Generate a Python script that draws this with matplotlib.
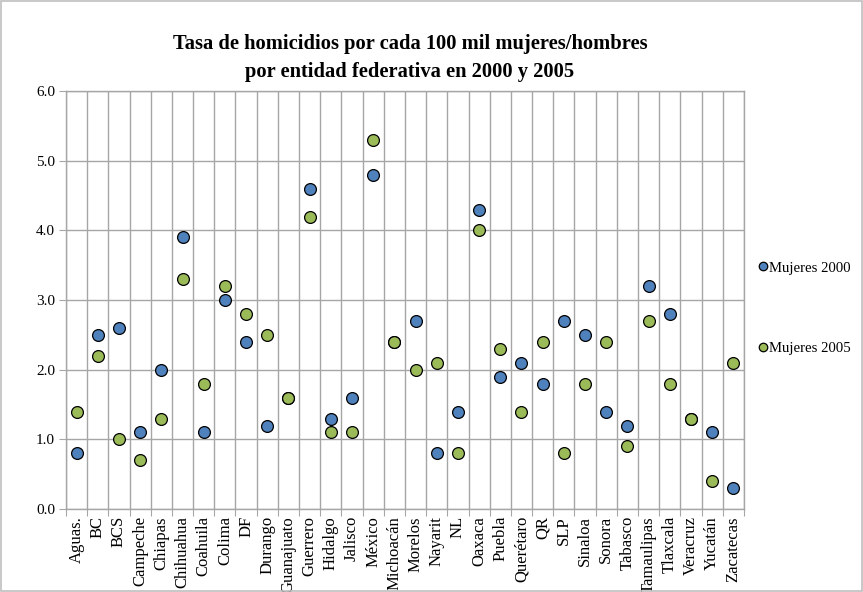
import numpy as np
import matplotlib
matplotlib.use("Agg")
import matplotlib.pyplot as plt
from matplotlib.patches import Rectangle

plt.rcParams['font.family'] = ['Liberation Serif', 'DejaVu Serif']

# datos
estados = ['Aguas.', 'BC', 'BCS', 'Campeche', 'Chiapas', 'Chihuahua', 'Coahuila',
           'Colima', 'DF', 'Durango', 'Guanajuato', 'Guerrero', 'Hidalgo', 'Jalisco',
           'México', 'Michoacán', 'Morelos', 'Nayarit', 'NL', 'Oaxaca', 'Puebla',
           'Querétaro', 'QR', 'SLP', 'Sinaloa', 'Sonora', 'Tabasco', 'Tamaulipas',
           'Tlaxcala', 'Veracruz', 'Yucatán', 'Zacatecas']
mujeres_2000 = [0.8, 2.5, 2.6, 1.1, 2.0, 3.9, 1.1, 3.0, 2.4, 1.2, 1.6, 4.6, 1.3, 1.6,
                4.8, 2.4, 2.7, 0.8, 1.4, 4.3, 1.9, 2.1, 1.8, 2.7, 2.5, 1.4, 1.2, 3.2,
                2.8, 1.3, 1.1, 0.3]
mujeres_2005 = [1.4, 2.2, 1.0, 0.7, 1.3, 3.3, 1.8, 3.2, 2.8, 2.5, 1.6, 4.2, 1.1, 1.1,
                5.3, 2.4, 2.0, 2.1, 0.8, 4.0, 2.3, 1.4, 2.4, 0.8, 1.8, 2.4, 0.9, 2.7,
                1.8, 1.3, 0.4, 2.1]

azul = '#4F81BD'
verde = '#9BBB59'
gris = '#A6A6A6'

fig = plt.figure(figsize=(8.63, 5.92), dpi=100)
ax = fig.add_axes([0.0765, 0.140, 0.7855, 0.706])

x = np.arange(len(estados))
ax.plot(x, mujeres_2000, 'o', color=azul, mec='black', mew=0.9, ms=8.5,
        label='Mujeres 2000', zorder=3)
ax.plot(x, mujeres_2005, 'o', color=verde, mec='black', mew=0.9, ms=8.5,
        label='Mujeres 2005', zorder=3)

ax.set_xlim(-0.5, len(estados) - 0.5)
ax.set_ylim(0, 6)
ax.set_yticks(np.arange(0, 6.1, 1.0))
ax.set_yticklabels(['%.1f' % v for v in np.arange(0, 6.1, 1.0)], fontsize=11)

# lineas verticales entre categorias
ax.set_xticks(np.arange(-0.5, len(estados), 1.0))
ax.set_xticklabels([])
ax.set_xticks(x, minor=True)
ax.set_xticklabels(estados, minor=True, rotation=90, fontsize=12)
ax.tick_params(axis='x', which='minor', length=0, pad=5)
ax.tick_params(axis='x', which='major', length=5, color=gris)
ax.tick_params(axis='y', length=5, color=gris, pad=3)

ax.grid(True, which='major', color=gris, linewidth=1.0)
ax.set_axisbelow(True)
for s in ax.spines.values():
    s.set_color(gris)
    s.set_linewidth(1.0)

fig.text(0.475, 0.902, 'Tasa de homicidios por cada 100 mil mujeres/hombres\n'
         'por entidad federativa en 2000 y 2005',
         ha='center', va='center', fontsize=14.8, fontweight='bold', linespacing=1.55)

ax.legend(loc='center left', bbox_to_anchor=(0.998, 0.481), frameon=False,
          fontsize=10.6, handletextpad=-0.1, labelspacing=4.55, handlelength=1.0,
          markerscale=0.72)

fig.patches.append(Rectangle((0.001, 0.001), 0.998, 0.998, transform=fig.transFigure,
                             fill=False, edgecolor='#BFBFBF', linewidth=1.2))

fig.savefig('out.png', dpi=100)
